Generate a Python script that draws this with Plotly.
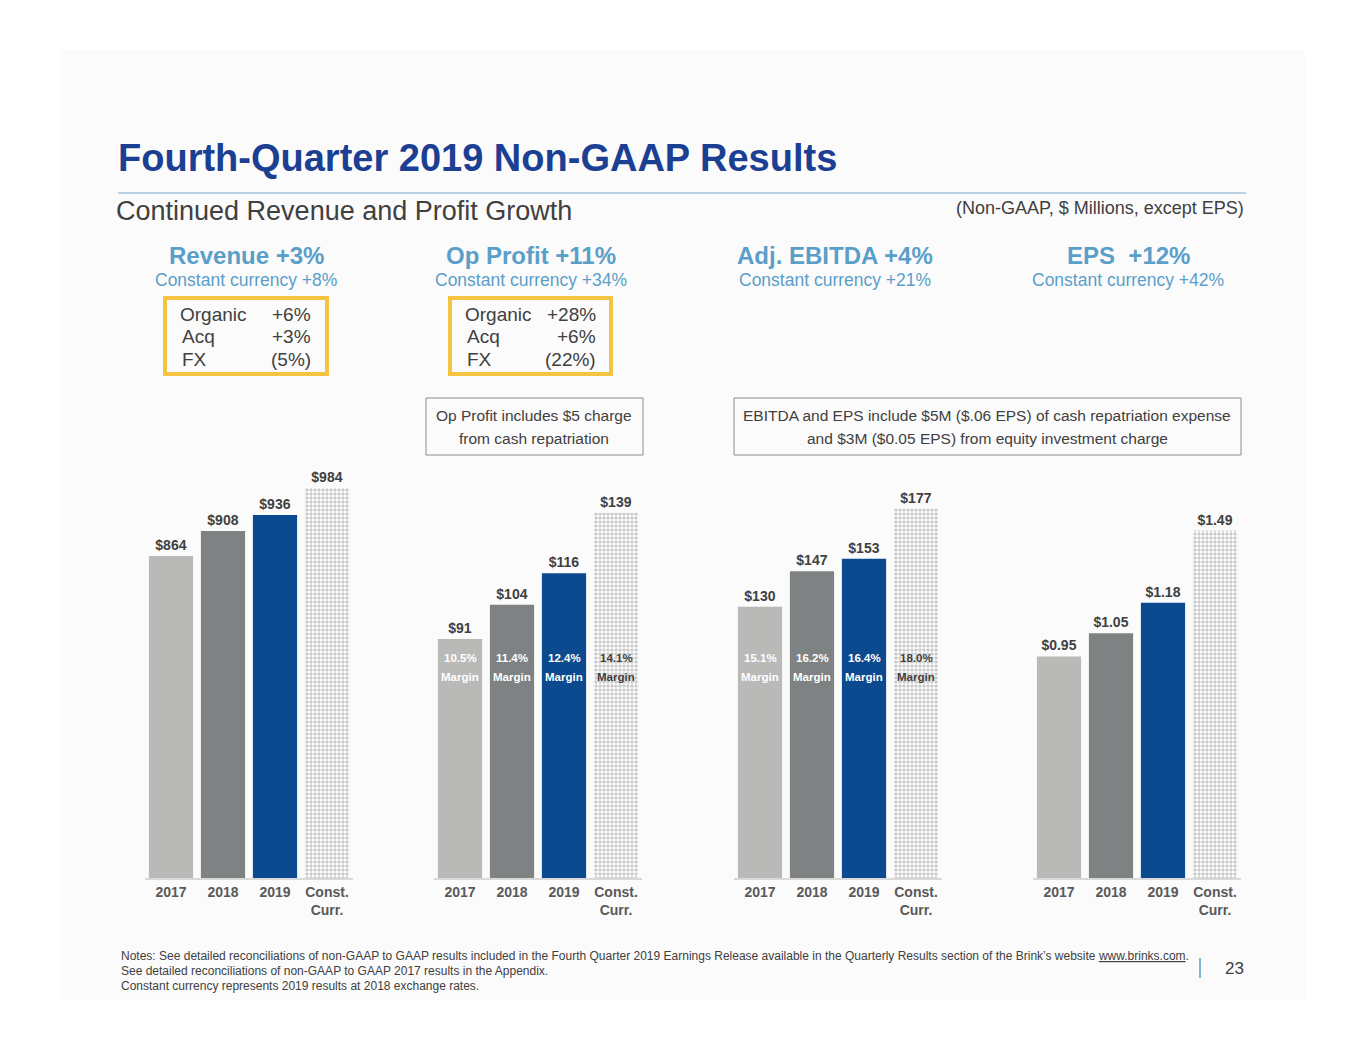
import plotly.graph_objects as go

years = ["2017", "2018", "2019", "Const. Curr."]
tick_text = ["2017", "2018", "2019", "Const.<br>Curr."]
revenue = [864, 908, 936, 984]
op_profit = [91, 104, 116, 139]
ebitda = [130, 147, 153, 177]
eps = [0.95, 1.05, 1.18, 1.49]
op_margin = ["10.5%", "11.4%", "12.4%", "14.1%"]
ebitda_margin = ["15.1%", "16.2%", "16.4%", "18.0%"]
rev_labels = ["$864", "$908", "$936", "$984"]
op_labels = ["$91", "$104", "$116", "$139"]
ebitda_labels = ["$130", "$147", "$153", "$177"]
eps_labels = ["$0.95", "$1.05", "$1.18", "$1.49"]

W, H = 1365, 1055
colors = ["#b9b9b8", "#7f8282", "#0b4a8e", "#ffffff"]
BLUE = "#1b3f93"
LBLUE = "#5a9fc9"
GRAY = "#404040"

# page has an 8px body margin
def px(x):
    return (x - 8) / W

def py(y):
    return 1 - (y - 8) / H

panels = [
    (revenue, rev_labels, 145, [296, 1139]),
    (op_profit, op_labels, 434, [0, 182]),
    (ebitda, ebitda_labels, 734, [0, 229]),
    (eps, eps_labels, 1033, [0, 2.05]),
]

fig = go.Figure()
layout = {}
for i, (vals, labels, x0, rng) in enumerate(panels):
    n = "" if i == 0 else str(i + 1)
    fig.add_trace(go.Bar(
        x=years, y=vals, text=["<b>%s</b>" % l for l in labels], textposition="outside", cliponaxis=False,
        textfont=dict(family="Arial", size=14, color=GRAY),
        marker=dict(color=colors, line=dict(width=0),
                    pattern=dict(shape=["", "", "", "+"], fgcolor="#a9c3de",
                                 bgcolor="#f4f7fb", size=4, solidity=0.3)),
        xaxis="x" + n, yaxis="y" + n, showlegend=False, hoverinfo="skip"))
    layout["xaxis" + n] = dict(domain=[px(x0), px(x0 + 208)], anchor="y" + n, type="category",
                               tickvals=years, ticktext=["<b>%s</b>" % t for t in tick_text],
                               tickfont=dict(family="Arial", size=14, color="#595959"),
                               showline=True, linecolor="#d9d9d9", linewidth=2, ticks="")
    layout["yaxis" + n] = dict(domain=[py(878), py(400)], anchor="x" + n, range=rng,
                               visible=False, fixedrange=True)

fig.update_layout(**layout, bargap=0.15, width=W, height=H,
                  margin=dict(l=0, r=0, t=0, b=0), plot_bgcolor="rgba(0,0,0,0)",
                  paper_bgcolor="white")

ann = []
def text(x, y, s, size, color, anchor="left", bold=False):
    ann.append(dict(x=px(x), y=py(y), xref="paper", yref="paper", text="<b>%s</b>" % s if bold else s,
                    showarrow=False, xanchor=anchor, yanchor="middle",
                    font=dict(family="Arial", size=size, color=color)))

text(116, 158, "Fourth-Quarter 2019 Non-GAAP Results", 38, BLUE, bold=True)
text(114, 211, "Continued Revenue and Profit Growth", 27, GRAY)
text(1246, 208, "(Non-GAAP, $ Millions, except EPS)", 18, GRAY, "right")
for cx, head, sub in [(246, "Revenue +3%", "Constant currency +8%"),
                      (531, "Op Profit +11%", "Constant currency +34%"),
                      (835, "Adj. EBITDA +4%", "Constant currency +21%"),
                      (1128, "EPS  +12%", "Constant currency +42%")]:
    text(cx, 256, head, 24, LBLUE, "center", True)
    text(cx, 280, sub, 17.5, LBLUE, "center")
for x0, rows in [(178, [("Organic", "+6%"), ("Acq", "+3%"), ("FX", "(5%)")]),
                 (463, [("Organic", "+28%"), ("Acq", "+6%"), ("FX", "(22%)")])]:
    for j, (a, b) in enumerate(rows):
        text(x0 + (2 if j else 0), 314 + j * 22.5, a, 19, GRAY)
        text(x0 + 135, 314 + j * 22.5, b, 19, GRAY, "right")
text(534, 415, "Op Profit includes $5 charge", 15.5, GRAY, "center")
text(534, 438, "from cash repatriation", 15.5, GRAY, "center")
text(987, 415, "EBITDA and EPS include $5M ($.06 EPS) of cash repatriation expense", 15.5, GRAY, "center")
text(987, 438, "and $3M ($0.05 EPS) from equity investment charge", 15.5, GRAY, "center")

for x0, margins in [(434, op_margin), (734, ebitda_margin)]:
    for j, m in enumerate(margins):
        c = GRAY if j == 3 else "white"
        cx = x0 + 26 + 52 * j
        text(cx, 658, m, 11.5, c, "center", True)
        text(cx, 677, "Margin", 11.5, c, "center", True)

text(119, 956, "Notes: See detailed reconciliations of non-GAAP to GAAP results included in the Fourth Quarter 2019 Earnings Release available in the Quarterly Results section of the Brink’s website <u>www.brinks.com</u>.", 12, GRAY)
text(119, 971, "See detailed reconciliations of non-GAAP to GAAP 2017 results in the Appendix.", 12, GRAY)
text(119, 986, "Constant currency represents 2019 results at 2018 exchange rates.", 12, GRAY)
text(1246, 968, "23", 17, GRAY, "right")
fig.update_layout(annotations=ann)

shapes = [
    dict(type="rect", xref="paper", yref="paper", x0=px(60), x1=px(1305), y0=py(1000), y1=py(50),
         fillcolor="#fbfbfb", line=dict(width=0), layer="below"),
    dict(type="line", xref="paper", yref="paper", x0=px(118), x1=px(1246), y0=py(193), y1=py(193),
         line=dict(color="#7fa7cc", width=1)),
    dict(type="rect", xref="paper", yref="paper", x0=px(165), x1=px(327), y0=py(374), y1=py(298),
         line=dict(color="#f5c342", width=4)),
    dict(type="rect", xref="paper", yref="paper", x0=px(450), x1=px(611), y0=py(374), y1=py(298),
         line=dict(color="#f5c342", width=4)),
    dict(type="rect", xref="paper", yref="paper", x0=px(426), x1=px(643), y0=py(455), y1=py(398),
         line=dict(color="#8c8c8c", width=1)),
    dict(type="rect", xref="paper", yref="paper", x0=px(734), x1=px(1241), y0=py(455), y1=py(398),
         line=dict(color="#8c8c8c", width=1)),
    dict(type="line", xref="paper", yref="paper", x0=px(1200), x1=px(1200), y0=py(958), y1=py(978),
         line=dict(color="#5a9fc9", width=1.5)),
]
fig.update_layout(shapes=shapes)

fig.write_html("out.html")
